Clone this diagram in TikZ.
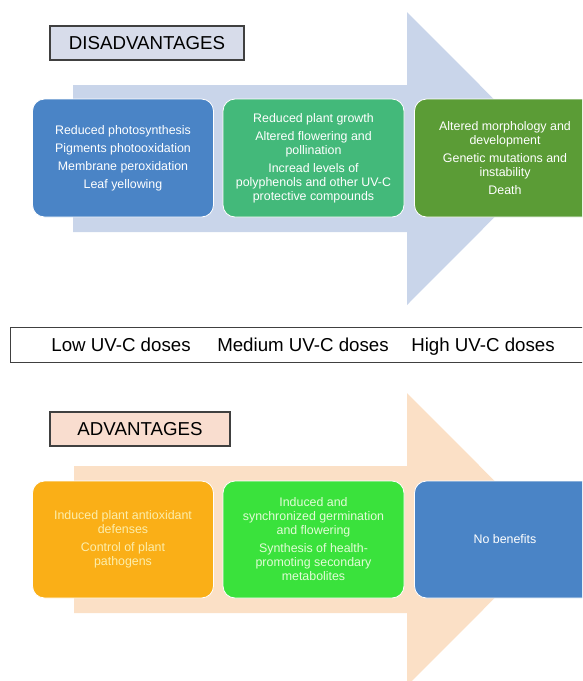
\documentclass[tikz,border=0pt]{standalone}
\usepackage{fontspec}
\setmainfont{Liberation Sans}
\definecolor{disarrow}{HTML}{C9D5EA}
\definecolor{advarrow}{HTML}{FBE0C6}
\definecolor{dishead}{HTML}{D7DCEA}
\definecolor{advhead}{HTML}{F9DDCF}
\definecolor{lowdis}{HTML}{4A84C6}
\definecolor{meddis}{HTML}{43B97A}
\definecolor{highdis}{HTML}{5B9C36}
\definecolor{lowadv}{HTML}{FAAF17}
\definecolor{medadv}{HTML}{3AE23C}
\definecolor{highadv}{HTML}{4A84C6}
\definecolor{paleyellow}{HTML}{FCEEAC}
\definecolor{palegreen}{HTML}{E2FCD6}
\begin{document}
\begin{tikzpicture}[x=1pt, y=-1pt,
  every node/.style={font=\fontsize{12.4}{14}\selectfont, align=center},
  effect/.style={rounded corners=12pt, draw=white, line width=0.8pt,
    minimum width=181pt, minimum height=118pt, inner sep=3pt, text=white},
  header/.style={draw=black!75, line width=1.1pt, minimum height=34pt,
    font=\fontsize{18.7}{22}\selectfont},
  dose/.style={anchor=base, font=\fontsize{18.7}{22}\selectfont}]
  \useasboundingbox (0,0) rectangle (582,681);
  \clip (0,0) rectangle (582,681);
  % Disadvantages arrow
  \fill[disarrow] (73,85) -- (407,85) -- (407,12) -- (553,158.5)
    -- (407,305) -- (407,232) -- (73,232) -- cycle;
  \node[header, fill=dishead, minimum width=194pt] (dis) at (147,43) {DISADVANTAGES};
  \node[effect, fill=lowdis] (dislow) at (123,158) {Reduced photosynthesis\\[4pt]
    Pigments photooxidation\\[4pt] Membrane peroxidation\\[4pt] Leaf yellowing};
  \node[effect, fill=meddis] (dismed) at (313.5,158) {Reduced plant growth\\[4pt]
    Altered flowering and\\ pollination\\[4pt] Incread levels of\\
    polyphenols and other UV-C\\ protective compounds};
  \node[effect, fill=highdis] (dishigh) at (505,158) {Altered morphology and\\
    development\\[4pt] Genetic mutations and\\ instability\\[4pt] Death};
  % UV-C doses
  \node[draw=black!75, line width=0.9pt, minimum width=580pt, minimum height=35pt]
    (doses) at (300,344.5) {};
  \node[dose] (low) at (121,351) {Low UV-C doses};
  \node[dose] (medium) at (303,351) {Medium UV-C doses};
  \node[dose] (high) at (483,351) {High UV-C doses};
  % Advantages arrow
  \fill[advarrow] (74,466) -- (407,466) -- (407,393) -- (553,539.5)
    -- (407,686) -- (407,613) -- (74,613) -- cycle;
  \node[header, fill=advhead, minimum width=180pt] (adv) at (140,429) {ADVANTAGES};
  \node[effect, fill=lowadv, text=paleyellow, minimum height=117pt] (advlow) at (123,539.5)
    {Induced plant antioxidant\\ defenses\\[4pt] Control of plant\\ pathogens};
  \node[effect, fill=medadv, text=palegreen, minimum height=117pt] (advmed) at (313.5,539.5)
    {Induced and\\ synchronized germination\\ and flowering\\[4pt]
    Synthesis of health-\\ promoting secondary\\ metabolites};
  \node[effect, fill=highadv, minimum height=117pt] (advhigh) at (505,539.5) {No benefits};
\end{tikzpicture}
\end{document}
